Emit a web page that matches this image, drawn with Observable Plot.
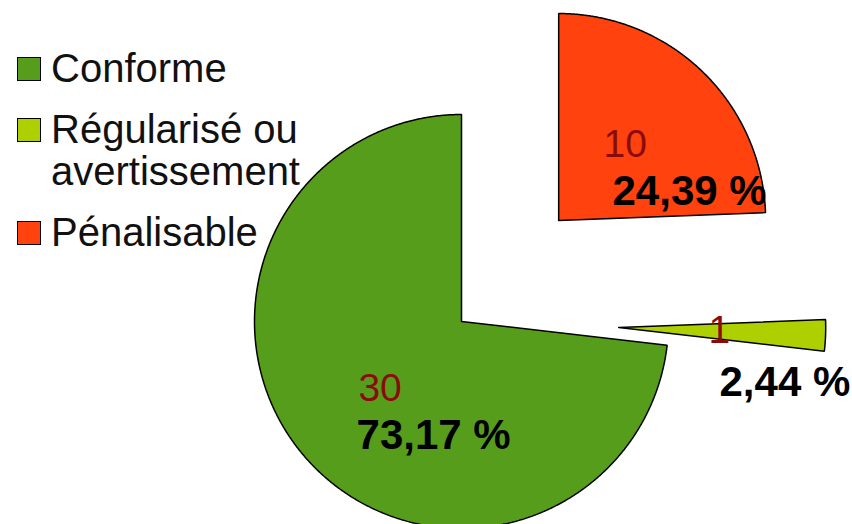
<!DOCTYPE html>
<html><head><meta charset="utf-8">
<script src="https://cdn.jsdelivr.net/npm/d3@7"></script>
<script src="https://cdn.jsdelivr.net/npm/@observablehq/plot@0.6"></script>
<style>
html,body{margin:0;padding:0;background:#fff;}
#wrap{position:relative;width:852px;height:524px;overflow:hidden;}
#legend{position:absolute;left:17px;top:47px;font-family:"Liberation Sans",Arial,sans-serif;font-size:40px;line-height:42px;color:#111;}
.item{display:flex;align-items:flex-start;margin-bottom:19px;}
.sw{width:22px;height:22px;border:1.5px solid #000;margin-top:10px;margin-right:10px;flex:none;}
.lab{white-space:pre-line;}
</style></head>
<body>
<div id="wrap"><div id="chart"></div><div id="legend"></div></div>
<script>
// ---- data ----
const categories = ["Conforme", "Régularisé ou avertissement", "Pénalisable"];
const counts = [30, 1, 10];
const colors = ["#579d1c", "#aecf00", "#ff420e"];

// ---- layout (in pie-radius units) ----
const explode = [0, 0.76, 0.677];
const numOffset = [[-0.498, 0.382], [0.434, 0.077], [0.217, -0.305]];
const pctOffset = [[-0.507, 0.614], [0.487, 0.329], [0.260, -0.073]];
const R = 207, CX = 461, CY = 321, W = 852, H = 524;

const total = d3.sum(counts);
const arcs = d3.pie().sort(null).startAngle(0).endAngle(-2 * Math.PI)(counts);

const points = [];
const labels = [];
arcs.forEach((a, i) => {
  const m = (a.startAngle + a.endAngle) / 2;
  const cx = explode[i] * Math.sin(m), cy = -explode[i] * Math.cos(m);
  const cat = categories[i];
  points.push({cat, x: cx, y: cy});
  const n = Math.max(2, Math.ceil(Math.abs(a.endAngle - a.startAngle) / 0.005));
  for (let k = 0; k <= n; k++) {
    const t = a.startAngle + (a.endAngle - a.startAngle) * k / n;
    points.push({cat, x: cx + Math.sin(t), y: cy - Math.cos(t)});
  }
  points.push({cat, x: cx, y: cy});
  const pct = (counts[i] / total * 100).toFixed(2).replace(".", ",") + " %";
  labels.push({
    num: String(counts[i]), pct,
    nx: cx + numOffset[i][0], ny: cy + numOffset[i][1],
    px: cx + pctOffset[i][0], py: cy + pctOffset[i][1]
  });
});

const font = "'Liberation Sans', Arial, sans-serif";
const chart = Plot.plot({
  width: W, height: H, margin: 0,
  x: {domain: [-CX / R, (W - CX) / R], range: [0, W], axis: null},
  y: {domain: [-CY / R, (H - CY) / R], range: [0, H], axis: null},
  color: {domain: categories, range: colors},
  style: {fontFamily: font, background: "white", overflow: "visible"},
  marks: [
    Plot.line(points, {x: "x", y: "y", z: "cat", fill: "cat", stroke: "#000", strokeWidth: 1.5, curve: "linear", strokeLinejoin: "miter"}),
    Plot.text(labels, {x: "nx", y: "ny", text: "num", fill: "#8b0a0a", fontSize: 39, textAnchor: "start", lineAnchor: "bottom", fontFamily: font}),
    Plot.text(labels, {x: "px", y: "py", text: "pct", fill: "#000", fontSize: 42, fontWeight: "bold", textAnchor: "start", lineAnchor: "bottom", fontFamily: font})
  ]
});
document.getElementById("chart").appendChild(chart);

const legend = document.getElementById("legend");
categories.forEach((c, i) => {
  const item = document.createElement("div");
  item.className = "item";
  const sw = document.createElement("div");
  sw.className = "sw";
  sw.style.background = colors[i];
  const lab = document.createElement("div");
  lab.className = "lab";
  lab.textContent = c.replace(" ou ", " ou\n");
  item.appendChild(sw); item.appendChild(lab);
  legend.appendChild(item);
});
</script>
</body></html>
